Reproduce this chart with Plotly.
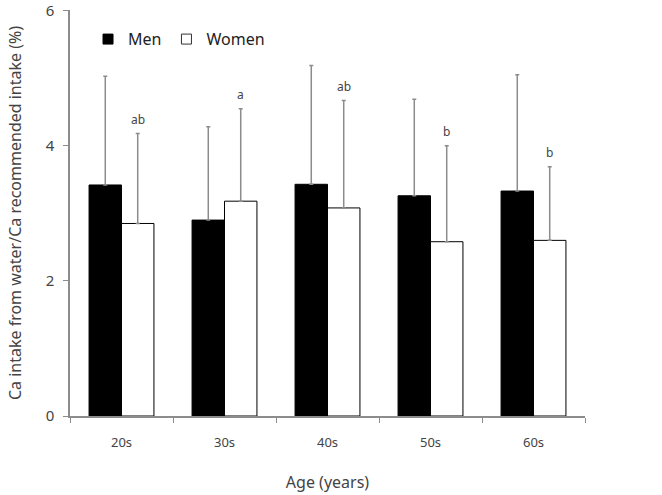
import plotly.graph_objects as go

categories = ["20s", "30s", "40s", "50s", "60s"]
men_mean = [3.42, 2.90, 3.43, 3.26, 3.33]
men_sd = [1.61, 1.38, 1.76, 1.43, 1.72]
women_mean = [2.85, 3.18, 3.08, 2.58, 2.60]
women_sd = [1.33, 1.37, 1.59, 1.42, 1.09]
women_letters = ["ab", "a", "ab", "b", "b"]
y_ticks = [0, 2, 4, 6]

FONT = "Noto Sans, Open Sans, DejaVu Sans, sans-serif"
TXT = "#444444"
AX = "#8c8c8c"

fig = go.Figure()
fig.add_trace(go.Bar(
    name="Men", x=categories, y=men_mean, showlegend=False,
    marker=dict(color="black", line=dict(color="black", width=1)),
    error_y=dict(type="data", array=men_sd, arrayminus=[0]*5, symmetric=False,
                 color=AX, thickness=1.5, width=2),
))
fig.add_trace(go.Bar(
    name="Women", x=categories, y=women_mean, showlegend=False,
    marker=dict(color="white", line=dict(color="black", width=1)),
    error_y=dict(type="data", array=women_sd, arrayminus=[0]*5, symmetric=False,
                 color=AX, thickness=1.5, width=2),
))
# legend entries with small square swatches
fig.add_trace(go.Scatter(name="Men", x=[None], y=[None], mode="markers",
                         marker=dict(symbol="square", size=10, color="black",
                                     line=dict(color="black", width=1))))
fig.add_trace(go.Scatter(name="Women", x=[None], y=[None], mode="markers",
                         marker=dict(symbol="square", size=10, color="white",
                                     line=dict(color="#333333", width=1))))

for c, m, s, t in zip(categories, women_mean, women_sd, women_letters):
    fig.add_annotation(x=c, y=m + s, text=t, showarrow=False, xshift=16,
                       yanchor="bottom", yshift=4,
                       font=dict(family=FONT, size=12, color=TXT))

fig.update_layout(
    width=662, height=495,
    margin=dict(l=70, r=77, t=10, b=79),
    paper_bgcolor="white", plot_bgcolor="white",
    barmode="group", bargap=0.37, bargroupgap=0,
    font=dict(family=FONT, color=TXT),
    showlegend=True,
    legend=dict(orientation="h", x=0.035, y=0.97, xanchor="left", yanchor="top",
                font=dict(family=FONT, size=16, color="#222222"),
                bgcolor="rgba(0,0,0,0)", itemwidth=30, tracegroupgap=0),
    xaxis=dict(showline=True, linecolor=AX, linewidth=1.5, ticks="outside",
               tickson="boundaries", tickcolor=AX, ticklen=5, automargin=False,
               ticklabelstandoff=14,
               tickfont=dict(family=FONT, size=13, color=TXT),
               title=dict(text="Age (years)", font=dict(family=FONT, size=16, color=TXT),
                          standoff=26)),
    yaxis=dict(range=[0, 6.01], tickvals=y_ticks, showline=True, linecolor=AX, linewidth=1.5,
               ticks="outside", tickcolor=AX, ticklen=5, showgrid=False, zeroline=False,
               automargin=False,
               ticklabelstandoff=6, ticklabeloverflow="allow",
               tickfont=dict(family=FONT, size=15, color=TXT),
               title=dict(text="Ca intake from water/Ca recommended intake (%)",
                          font=dict(family=FONT, size=16, color=TXT), standoff=20)),
)

fig.write_html("out.html")
